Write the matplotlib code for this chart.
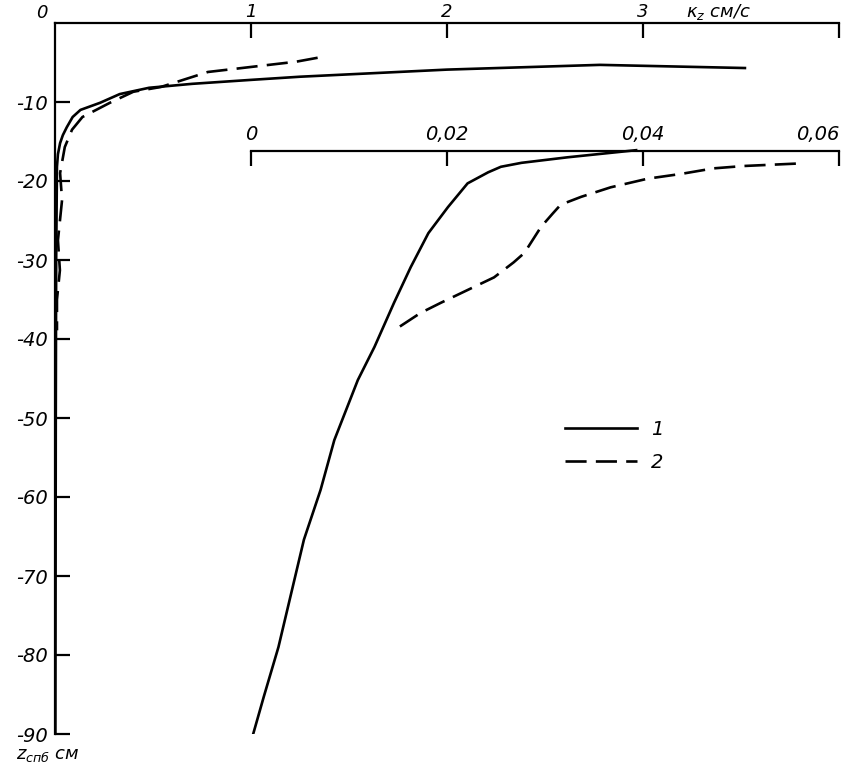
import matplotlib.pyplot as plt

# main scale: kz, cm/s (top axis)
kz1 = [3.52, 2.78, 2.0, 1.25, 1.0, 0.7, 0.48, 0.33, 0.23, 0.13, 0.09, 0.06, 0.04, 0.026, 0.015, 0.01,
       0.006, 0.004, 0.003, 0.002]
z1 = [-5.7, -5.3, -5.9, -6.8, -7.2, -7.7, -8.2, -9.0, -10.1, -11.0, -11.9, -13.2, -14.2, -15.2, -16.6, -18.2,
      -30, -50, -70, -90]
kz2 = [1.34, 1.23, 0.78, 0.54, 0.40, 0.28, 0.14, 0.087, 0.05, 0.026, 0.036, 0.015, 0.025, 0.01, 0.01]
z2 = [-4.4, -4.9, -6.2, -8.1, -8.7, -10.1, -11.9, -13.5, -15.7, -19.0, -22.4, -27.5, -31.3, -35.0, -38.9]

# inset scale: 0 ... 0.06
kz1_in = [0.0393, 0.0323, 0.0276, 0.0255, 0.0242, 0.0221, 0.0201, 0.0181, 0.0163, 0.0146,
          0.0126, 0.0109, 0.0085, 0.0071, 0.0054, 0.0041, 0.0028, 0.0013, 0.0002]
z1_in = [-16.1, -17.0, -17.7, -18.2, -18.9, -20.3, -23.3, -26.6, -30.9, -35.4,
         -41.0, -45.2, -52.8, -59.1, -65.4, -72.2, -79.0, -85.3, -90.1]
kz2_in = [0.0556, 0.0503, 0.0472, 0.0439, 0.0405, 0.0367, 0.0337, 0.0316, 0.0308, 0.0296,
          0.0279, 0.0268, 0.0248, 0.0221, 0.0194, 0.0173, 0.0146]
z2_in = [-17.8, -18.1, -18.4, -19.1, -19.7, -20.8, -22.0, -23.0, -24.1, -25.8,
         -29.1, -30.3, -32.2, -33.8, -35.4, -36.7, -38.9]

x_ticks = [1, 2, 3, 4]
x_labels = ['1', '2', '3', '']
y_ticks = [-10, -20, -30, -40, -50, -60, -70, -80, -90]
in_ticks = [0, 0.02, 0.04, 0.06]
in_labels = ['0', '0,02', '0,04', '0,06']

fs = 14
lw = 1.9
plt.rcParams['font.family'] = ['DejaVu Sans']
plt.rcParams['font.style'] = 'italic'

fig = plt.figure(figsize=(8.47, 7.69), dpi=100)
ax = fig.add_axes([55 / 847, 1 - 734 / 769, 784 / 847, 711 / 769])
ax.set_xlim(0, 4)
ax.set_ylim(-90, 0)

# inset axis sharing depth (twiny resets main ticks, so make it first)
ax2 = ax.twiny()
ax2.set_xlim(-0.02, 0.06)

ax.plot(kz1, z1, color='black', lw=lw, label='1')
ax.plot(kz2, z2, color='black', lw=lw, dashes=(8, 3.5), label='2')

for s in ['right', 'bottom']:
    ax.spines[s].set_visible(False)
for s in ['top', 'left']:
    ax.spines[s].set_linewidth(1.6)
ax.xaxis.tick_top()
ax.set_xticks(x_ticks)
ax.set_xticklabels(x_labels, fontsize=fs - 1)
ax.set_yticks(y_ticks)
ax.set_yticklabels([str(v) for v in y_ticks], fontsize=fs)
ax.tick_params(axis='both', direction='in', length=11, width=1.6, pad=5)
ax.tick_params(axis='x', labelbottom=False, bottom=False, pad=1.5)
ax.text(-0.04, 0.15, '0', fontsize=fs - 1, ha='right', va='bottom')
ax.text(3.22, 0.1, 'κ$_z$ см/с', fontsize=fs - 1, ha='left', va='bottom')
ax.text(-0.2, -91.5, 'z$_{спб}$ см', fontsize=fs - 1, ha='left', va='top')

ax2.plot(kz1_in, z1_in, color='black', lw=lw)
ax2.plot(kz2_in, z2_in, color='black', lw=lw, dashes=(8, 3.5))
for s in ['right', 'bottom', 'left']:
    ax2.spines[s].set_visible(False)
ax2.spines['top'].set_position(('data', -16.2))
ax2.spines['top'].set_bounds(0, 0.06)
ax2.spines['top'].set_linewidth(1.6)
ax2.set_xticks(in_ticks)
ax2.set_xticklabels(in_labels, fontsize=fs)
ax2.get_xticklabels()[-1].set_horizontalalignment('right')
ax2.tick_params(axis='x', direction='in', length=11, width=1.6, pad=5)

ax.legend(loc='upper left', bbox_to_anchor=(565 / 847, 1 - 420 / 769),
          bbox_transform=fig.transFigure, frameon=False, fontsize=fs,
          handlelength=3.7, handletextpad=0.7, labelspacing=0.7,
          borderpad=0, borderaxespad=0)

fig.savefig('out.png', dpi=100)
